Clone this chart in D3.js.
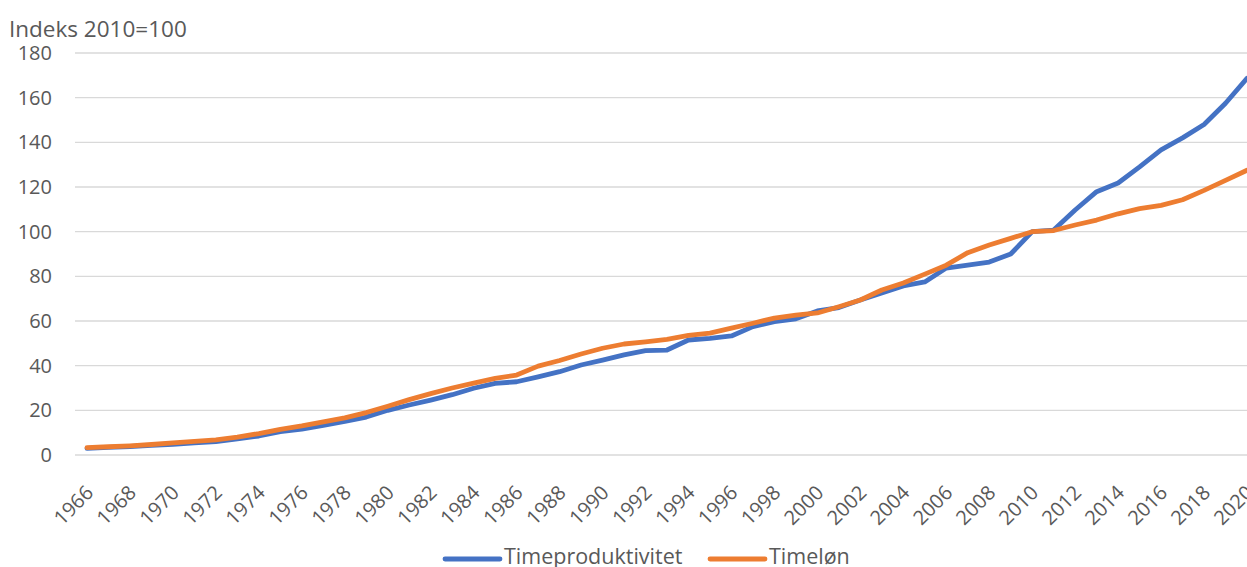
<!DOCTYPE html>
<html>
<head>
<meta charset="utf-8">
<script src="https://cdn.jsdelivr.net/npm/d3@7"></script>
<style>
  body { margin: 0; background: #fff; overflow: hidden; }
  text { font-family: "Open Sans", "Noto Sans", sans-serif; fill: #595959; }
</style>
</head>
<body>
<div id="chart"></div>
<script>
// data
const years = d3.range(1966, 2021);
const timeproduktivitet = [
  3.0, 3.4, 3.8, 4.3, 4.8, 5.4, 6.0, 7.2, 8.5, 10.5,
  11.6, 13.3, 15.0, 17.0, 20.0, 22.4, 24.6, 27.0, 29.9, 32.1,
  32.8, 35.0, 37.3, 40.3, 42.5, 44.8, 46.7, 47.0, 51.5, 52.2,
  53.3, 57.5, 59.7, 61.0, 64.5, 66.0, 69.4, 72.5, 75.7, 77.5,
  83.7, 85.0, 86.4, 90.0, 100.0, 100.7, 109.7, 117.9, 121.8, 129.0,
  136.6, 142.0, 148.0, 157.5, 168.7
];
const timeloen = [
  3.3, 3.7, 4.1, 4.7, 5.4, 6.1, 6.8, 8.0, 9.6, 11.5,
  13.0, 14.8, 16.6, 19.0, 21.8, 24.8, 27.5, 30.0, 32.2, 34.3,
  35.8, 39.8, 42.3, 45.2, 47.8, 49.7, 50.7, 51.8, 53.6, 54.6,
  56.8, 59.0, 61.3, 62.6, 63.6, 66.4, 69.4, 73.9, 77.0, 81.0,
  85.0, 90.6, 94.0, 97.0, 100.0, 100.5, 103.0, 105.2, 108.0, 110.3,
  111.8, 114.3, 118.5, 123.0, 127.5
];
const yTicks = [0, 20, 40, 60, 80, 100, 120, 140, 160, 180];
const xTickYears = years.filter((d) => d % 2 === 0);
const seriesNames = ["Timeproduktivitet", "Timeløn"];
const seriesColors = ["#4472C4", "#ED7D31"];

const width = 1247;
const height = 567;

const svg = d3
  .select("#chart")
  .append("svg")
  .attr("width", width)
  .attr("height", height);

const x = d3.scalePoint().domain(years).range([87, 1247]);
const y = d3.scaleLinear().domain([0, 180]).range([455, 53]);

// gridlines
svg
  .append("g")
  .selectAll("line")
  .data(yTicks)
  .enter()
  .append("line")
  .attr("x1", 75)
  .attr("x2", width)
  .attr("y1", (d) => y(d))
  .attr("y2", (d) => y(d))
  .attr("stroke", "#d9d9d9")
  .attr("stroke-width", 1.3);

// Y axis labels
const yAxis = svg
  .append("g")
  .attr("transform", "translate(52,0)")
  .call(d3.axisLeft(y).tickValues(yTicks).tickSize(0).tickPadding(0));
yAxis.select(".domain").remove();
yAxis
  .selectAll("text")
  .style("font-size", "20px")
  .style("fill", "#595959")
  .style("font-family", '"Open Sans", sans-serif');

// X axis labels
const xAxis = svg
  .append("g")
  .attr("transform", "translate(0,455)")
  .call(d3.axisBottom(x).tickValues(xTickYears).tickSize(0).tickPadding(0));
xAxis.select(".domain").remove();
xAxis
  .selectAll("text")
  .attr("dy", 0)
  .attr("y", 0)
  .attr("transform", "translate(7,39)rotate(-45)")
  .style("text-anchor", "end")
  .style("font-size", "20px")
  .style("fill", "#595959")
  .style("font-family", '"Open Sans", sans-serif');

// Y axis title
svg
  .append("text")
  .attr("x", 9)
  .attr("y", 37)
  .style("font-size", "22.5px")
  .text("Indeks 2010=100");

// lines
const line = d3
  .line()
  .x((d, i) => x(years[i]))
  .y((d) => y(d));

[timeproduktivitet, timeloen].forEach((values, i) => {
  svg
    .append("path")
    .datum(values)
    .attr("fill", "none")
    .attr("stroke", seriesColors[i])
    .attr("stroke-width", 4.8)
    .attr("stroke-linejoin", "round")
    .attr("stroke-linecap", "round")
    .attr("d", line);
});

// legend
const legendX = [445, 710];
const legend = svg
  .append("g")
  .selectAll("g")
  .data(seriesNames)
  .enter()
  .append("g")
  .attr("transform", (d, i) => `translate(${legendX[i]},559)`);
legend
  .append("line")
  .attr("x1", 0)
  .attr("x2", 55)
  .attr("stroke", (d, i) => seriesColors[i])
  .attr("stroke-width", 4.8)
  .attr("stroke-linecap", "round");
legend
  .append("text")
  .attr("x", 59)
  .attr("y", 5)
  .style("font-size", "21.5px")
  .text((d) => d);
</script>
</body>
</html>
